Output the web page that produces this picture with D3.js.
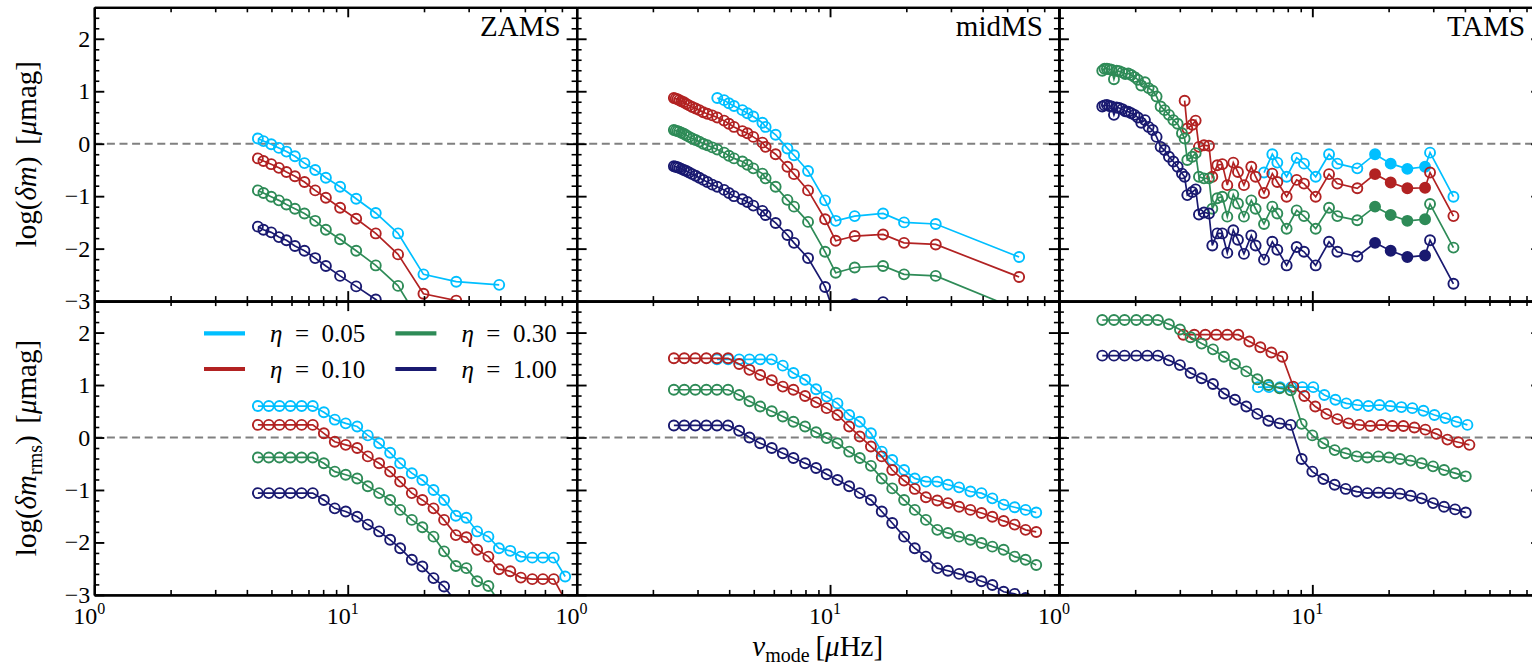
<!DOCTYPE html>
<html><head><meta charset="utf-8">
<script src="https://cdn.jsdelivr.net/npm/d3@7"></script>
<style>
body{margin:0;background:#fff;}
svg text{font-family:"Liberation Serif","DejaVu Serif",serif;fill:#000;}
</style></head><body>
<svg id="c" width="1532" height="670"></svg>
<script>
// ---------------- data ----------------
const etaLabels = ["0.05", "0.10", "0.30", "1.00"];
const panelTitles = ["ZAMS", "midMS", "TAMS"];
const xDomain = [1, 80];
const yDomain = [-3, 2.6];
const yMajorTicks = [-3, -2, -1, 0, 1, 2];
const yMinorTicks = [-2.8, -2.6, -2.4, -2.2, -1.8, -1.6, -1.4, -1.2, -0.8, -0.6, -0.4, -0.2, 0.2, 0.4, 0.6, 0.8, 1.2, 1.4, 1.6, 1.8, 2.2, 2.4];
const xMajorTicks = [1, 10];
const xMajorExp = ["0", "1"];
const xMinorTicks = [2, 3, 4, 5, 6, 7, 8, 9, 20, 30, 40, 50, 60, 70, 80];

// ZAMS, log(dm)
const nuZamsTop = [4.42, 4.65, 4.99, 5.35, 5.73, 6.19, 6.75, 7.44, 8.20, 9.33, 10.8, 12.9, 15.8, 19.9, 26.8, 39.6];
const zamsTop005 = [0.10, 0.05, -0.01, -0.08, -0.15, -0.24, -0.37, -0.50, -0.65, -0.82, -1.05, -1.32, -1.71, -2.49, -2.63, -2.69];
const zamsTop010 = [-0.28, -0.33, -0.39, -0.46, -0.54, -0.62, -0.73, -0.89, -1.03, -1.22, -1.43, -1.71, -2.11, -2.86, -2.99, -3.25];
const zamsTop030 = [-0.89, -0.94, -1.01, -1.08, -1.16, -1.24, -1.33, -1.47, -1.64, -1.82, -2.04, -2.32, -2.71, -3.5, null, null];
const zamsTop100 = [-1.58, -1.64, -1.69, -1.78, -1.84, -1.95, -2.04, -2.18, -2.33, -2.52, -2.72, -2.97, -3.35, null, null, null];

// midMS, log(dm)
const nuMidTop = [2.42, 2.46, 2.50, 2.54, 2.59, 2.65, 2.71, 2.78, 2.86, 2.95, 3.05, 3.16, 3.28, 3.43, 3.59, 3.82, 3.99, 4.18, 4.51, 4.72, 4.98, 5.41, 5.57, 6.10, 6.79, 7.21, 8.19, 9.56, 10.53, 12.51, 16.19, 19.59, 26.13, 55.74];
const midTop005 = [null, null, null, null, null, null, null, null, null, null, null, null, null, null, 0.87, 0.83, 0.77, 0.72, 0.64, 0.58, 0.52, 0.40, 0.32, 0.17, -0.09, -0.22, -0.52, -1.08, -1.47, -1.38, -1.33, -1.50, -1.53, -2.16];
const midTop010 = [0.87, 0.86, 0.85, 0.83, 0.81, 0.79, 0.76, 0.73, 0.70, 0.67, 0.64, 0.60, 0.57, 0.54, 0.50, 0.44, 0.38, 0.32, 0.24, 0.20, 0.13, 0.02, -0.06, -0.20, -0.44, -0.58, -0.89, -1.44, -1.85, -1.76, -1.73, -1.89, -1.92, -2.54];
const midTop030 = [0.26, 0.25, 0.24, 0.23, 0.21, 0.19, 0.16, 0.13, 0.10, 0.07, 0.04, 0.00, -0.03, -0.07, -0.11, -0.17, -0.23, -0.28, -0.34, -0.40, -0.47, -0.57, -0.66, -0.82, -1.07, -1.20, -1.49, -2.06, -2.46, -2.36, -2.33, -2.49, -2.52, -3.17];
const midTop100 = [-0.43, -0.44, -0.45, -0.46, -0.48, -0.50, -0.52, -0.55, -0.58, -0.61, -0.65, -0.69, -0.73, -0.78, -0.82, -0.88, -0.94, -1.00, -1.06, -1.11, -1.18, -1.28, -1.36, -1.51, -1.74, -1.89, -2.18, -2.73, -3.32, -3.06, -3.02, -3.15, -3.18, -3.85];

// TAMS, log(dm)
const nuTamsTop = [1.483, 1.514, 1.547, 1.580, 1.614, 1.649, 1.689, 1.730, 1.778, 1.827, 1.878, 1.930, 1.989, 2.050, 2.113, 2.185, 2.259, 2.343, 2.429, 2.520, 2.613, 2.718, 2.828, 2.941, 3.059, 3.134, 3.211, 3.360, 3.464, 3.570, 3.736, 3.910, 4.030, 4.217, 4.413, 4.618, 4.877, 5.088, 5.373, 5.744, 5.975, 6.447, 6.953, 7.275, 7.918, 8.675, 9.271, 10.31, 11.64, 12.55, 15.05, 17.68, 20.38, 23.71, 27.85, 29.14, 36.04];
const tamsTop005 = [null, null, null, null, null, null, null, null, null, null, null, null, null, null, null, null, null, null, null, null, null, null, null, null, null, null, null, null, null, null, null, null, null, null, null, null, null, null, null, null, null, -0.55, -0.20, -0.36, -0.63, -0.27, -0.38, -0.63, -0.20, -0.38, -0.47, -0.20, -0.38, -0.48, -0.44, -0.17, -1.01];
const tamsTop010 = [null, null, null, null, null, null, null, null, null, null, null, null, null, null, null, null, null, null, null, null, null, null, null, null, null, 0.82, 0.29, 0.36, 0.44, -0.06, -0.03, -0.04, -0.63, -0.41, -0.39, -0.79, -0.36, -0.54, -0.79, -0.44, -0.63, -0.94, -0.57, -0.73, -1.01, -0.69, -0.76, -1.01, -0.58, -0.76, -0.85, -0.58, -0.74, -0.85, -0.84, -0.55, -1.38];
const tamsTop030 = [1.39, 1.43, 1.43, 1.42, 1.41, 1.23, 1.39, 1.38, 1.36, 1.33, 1.34, 1.31, 1.27, 1.22, 1.11, 1.17, 1.06, 1.01, 0.90, 0.71, 0.64, 0.55, 0.45, 0.38, 0.20, 0.10, -0.31, -0.25, -0.18, -0.63, -0.66, -0.66, -1.24, -1.04, -1.01, -1.39, -0.97, -1.14, -1.39, -1.08, -1.24, -1.53, -1.20, -1.33, -1.62, -1.27, -1.38, -1.62, -1.22, -1.38, -1.46, -1.20, -1.36, -1.47, -1.44, -1.15, -1.98];
const tamsTop100 = [0.71, 0.73, 0.74, 0.72, 0.71, 0.55, 0.69, 0.68, 0.66, 0.62, 0.61, 0.58, 0.55, 0.50, 0.40, 0.45, 0.32, 0.26, 0.13, -0.06, -0.12, -0.25, -0.34, -0.44, -0.57, -0.63, -0.98, -0.92, -0.87, -1.35, -1.31, -1.33, -1.94, -1.71, -1.71, -2.08, -1.65, -1.83, -2.10, -1.75, -1.94, -2.21, -1.87, -2.02, -2.32, -1.97, -2.06, -2.32, -1.87, -2.06, -2.15, -1.89, -2.04, -2.16, -2.13, -1.84, -2.67];
const tamsFilledNu = [17.68, 20.38, 23.71, 27.85];

// ZAMS, log(dm_rms)
const nuZamsBot = [4.42, 4.88, 5.38, 5.94, 6.58, 7.28, 8.05, 8.89, 9.82, 10.9, 12.0, 13.3, 14.7, 16.1, 17.9, 19.7, 21.8, 24.0, 26.7, 29.4, 32.4, 35.9, 39.5, 43.8, 48.2, 53.5, 58.9, 65.0, 72.1];
const zamsBot005 = [0.60, 0.60, 0.60, 0.60, 0.60, 0.60, 0.48, 0.34, 0.27, 0.21, 0.04, -0.11, -0.29, -0.49, -0.68, -0.81, -1.00, -1.19, -1.49, -1.53, -1.79, -1.89, -2.11, -2.16, -2.27, -2.29, -2.29, -2.29, -2.65];
const zamsBot010 = [0.24, 0.24, 0.24, 0.24, 0.24, 0.24, 0.08, -0.08, -0.14, -0.20, -0.36, -0.49, -0.65, -0.84, -1.06, -1.19, -1.35, -1.57, -1.86, -1.90, -2.14, -2.27, -2.51, -2.55, -2.67, -2.70, -2.70, -2.70, -3.10];
const zamsBot030 = [-0.38, -0.38, -0.38, -0.38, -0.38, -0.38, -0.49, -0.65, -0.71, -0.78, -0.93, -1.06, -1.19, -1.38, -1.57, -1.71, -1.89, -2.17, -2.45, -2.49, -2.74, -2.83, -3.13, null, null, null, null, null, null];
const zamsBot100 = [-1.06, -1.06, -1.06, -1.06, -1.06, -1.06, -1.19, -1.35, -1.41, -1.51, -1.66, -1.79, -1.95, -2.11, -2.33, -2.46, -2.68, -2.84, -3.13, null, null, null, null, null, null, null, null, null, null];

// midMS, log(dm_rms)
const nuMidBot = [2.42, 2.66, 2.94, 3.25, 3.58, 3.96, 4.38, 4.81, 5.30, 5.89, 6.51, 7.17, 7.97, 8.81, 9.70, 10.7, 11.9, 13.1, 14.5, 16.0, 17.6, 19.6, 21.6, 23.9, 26.5, 29.2, 32.3, 35.8, 39.6, 43.7, 48.4, 53.5, 59.1, 65.1];
const midBot005 = [null, null, null, null, 1.49, 1.49, 1.49, 1.49, 1.49, 1.49, 1.37, 1.23, 1.10, 0.92, 0.78, 0.65, 0.43, 0.30, 0.08, -0.27, -0.43, -0.62, -0.78, -0.84, -0.84, -0.90, -0.95, -1.03, -1.06, -1.16, -1.28, -1.33, -1.38, -1.43];
const midBot010 = [1.51, 1.51, 1.51, 1.51, 1.51, 1.51, 1.40, 1.29, 1.19, 1.09, 0.97, 0.91, 0.79, 0.67, 0.56, 0.43, 0.21, 0.02, -0.17, -0.36, -0.62, -0.82, -0.98, -1.14, -1.20, -1.25, -1.32, -1.38, -1.44, -1.51, -1.59, -1.66, -1.76, -1.80];
const midBot030 = [0.91, 0.91, 0.91, 0.91, 0.91, 0.91, 0.81, 0.69, 0.59, 0.50, 0.40, 0.30, 0.21, 0.10, -0.01, -0.11, -0.27, -0.39, -0.54, -0.78, -0.97, -1.19, -1.38, -1.57, -1.76, -1.82, -1.89, -1.95, -2.01, -2.08, -2.14, -2.27, -2.33, -2.43];
const midBot100 = [0.23, 0.23, 0.23, 0.23, 0.23, 0.23, 0.13, 0.00, -0.11, -0.20, -0.30, -0.39, -0.49, -0.58, -0.70, -0.81, -0.93, -1.06, -1.19, -1.41, -1.63, -1.89, -2.11, -2.27, -2.49, -2.54, -2.60, -2.66, -2.74, -2.81, -2.94, -2.98, -3.06, -3.16];

// TAMS, log(dm_rms)
const nuTamsBot005 = [6.103, 6.745, 7.456, 8.263, 9.131, 10.09, 11.15, 12.33, 13.62, 15.05, 16.64, 18.39, 20.32, 22.46, 24.82, 27.44, 30.32, 33.50, 37.03, 40.92];
const tamsBot005 = [0.96, 0.96, 0.96, 0.96, 0.96, 0.96, 0.81, 0.72, 0.65, 0.62, 0.60, 0.62, 0.60, 0.58, 0.56, 0.51, 0.43, 0.37, 0.30, 0.24];
const nuTamsBot010 = [3.096, 3.422, 3.782, 4.180, 4.618, 5.104, 5.641, 6.234, 6.889, 7.613, 8.414, 9.299, 10.27, 11.36, 12.55, 13.87, 15.33, 16.94, 18.73, 20.70, 22.87, 25.28, 27.93, 30.87, 34.12, 37.70, 41.67];
const tamsBot010 = [1.96, 1.96, 1.96, 1.96, 1.96, 1.96, 1.83, 1.72, 1.62, 1.54, 0.97, 0.79, 0.59, 0.45, 0.35, 0.27, 0.24, 0.22, 0.24, 0.22, 0.22, 0.19, 0.15, 0.07, -0.04, -0.09, -0.14];
const nuTamsBot = [1.483, 1.649, 1.816, 2.020, 2.232, 2.459, 2.718, 3.004, 3.309, 3.658, 4.055, 4.480, 4.951, 5.489, 6.066, 6.705, 7.432, 8.214, 9.077, 10.00, 11.05, 12.25, 13.54, 14.96, 16.49, 18.22, 20.08, 22.19, 24.44, 27.02, 29.94, 33.09, 36.58, 40.31];
const tamsBot030 = [2.24, 2.24, 2.24, 2.24, 2.24, 2.24, 2.16, 2.06, 1.91, 1.79, 1.68, 1.54, 1.40, 1.26, 1.11, 1.00, 0.94, 0.90, 0.26, 0.04, -0.11, -0.24, -0.30, -0.36, -0.38, -0.36, -0.38, -0.41, -0.44, -0.49, -0.55, -0.62, -0.68, -0.74];
const tamsBot100 = [1.56, 1.56, 1.56, 1.56, 1.56, 1.56, 1.47, 1.38, 1.23, 1.13, 1.02, 0.84, 0.72, 0.59, 0.45, 0.32, 0.27, 0.24, -0.41, -0.65, -0.79, -0.90, -0.98, -1.03, -1.06, -1.05, -1.06, -1.07, -1.11, -1.16, -1.25, -1.32, -1.37, -1.43];

// ---------------- style / layout ----------------
const colors = ["#00bfff", "#b22222", "#2e8b57", "#191970"];
const L0 = 94.3, T0 = 7.3, PW = 482.3, PH = 293.8;
const TICKFS = 24, LABELFS = 29;

const panels = [
  {col: 0, row: 0, series: [[nuZamsTop, zamsTop005], [nuZamsTop, zamsTop010], [nuZamsTop, zamsTop030], [nuZamsTop, zamsTop100]]},
  {col: 1, row: 0, series: [[nuMidTop, midTop005], [nuMidTop, midTop010], [nuMidTop, midTop030], [nuMidTop, midTop100]]},
  {col: 2, row: 0, filled: tamsFilledNu, series: [[nuTamsTop, tamsTop005], [nuTamsTop, tamsTop010], [nuTamsTop, tamsTop030], [nuTamsTop, tamsTop100]]},
  {col: 0, row: 1, series: [[nuZamsBot, zamsBot005], [nuZamsBot, zamsBot010], [nuZamsBot, zamsBot030], [nuZamsBot, zamsBot100]]},
  {col: 1, row: 1, series: [[nuMidBot, midBot005], [nuMidBot, midBot010], [nuMidBot, midBot030], [nuMidBot, midBot100]]},
  {col: 2, row: 1, series: [[nuTamsBot005, tamsBot005], [nuTamsBot010, tamsBot010], [nuTamsBot, tamsBot030], [nuTamsBot, tamsBot100]]}
];

const svg = d3.select("#c");
svg.append("rect").attr("width", 1532).attr("height", 670).attr("fill", "#fff");
const defs = svg.append("defs");
const minus = v => v < 0 ? "\u2212" + Math.abs(v) : String(v);

function styleAxis(g, w) {
  g.select(".domain").attr("stroke", "#000").attr("stroke-width", 2.2);
  g.selectAll(".tick line").attr("stroke", "#000").attr("stroke-width", w);
}

panels.forEach(p => {
  const x0 = L0 + p.col * PW, y0 = T0 + p.row * PH;
  const x = d3.scaleLog().domain(xDomain).range([x0, x0 + PW]);
  const y = d3.scaleLinear().domain(yDomain).range([y0 + PH, y0]);
  const cid = "clip" + p.col + p.row;
  defs.append("clipPath").attr("id", cid).append("rect")
    .attr("x", x0).attr("y", y0).attr("width", PW).attr("height", PH);
  const g = svg.append("g").attr("clip-path", "url(#" + cid + ")");
  g.append("line").attr("x1", x0).attr("x2", x0 + PW).attr("y1", y(0)).attr("y2", y(0))
    .attr("stroke", "#808080").attr("stroke-width", 2).attr("stroke-dasharray", "8,4.6");

  p.series.forEach((s, i) => {
    const pts = s[0].map((n, k) => ({n: n, v: s[1][k]})).filter(d => d.v !== null && d.v !== undefined);
    g.append("path").datum(pts)
      .attr("d", d3.line().x(d => x(d.n)).y(d => y(d.v)))
      .attr("fill", "none").attr("stroke", colors[i]).attr("stroke-width", 1.7);
    g.selectAll(null).data(pts).join("circle")
      .attr("cx", d => x(d.n)).attr("cy", d => y(d.v)).attr("r", 5.0)
      .attr("fill", d => (p.filled && p.filled.includes(d.n)) ? colors[i] : "none")
      .attr("stroke", colors[i]).attr("stroke-width", 1.9);
  });

  // axes (inward ticks on all sides)
  const ax = svg.append("g");
  const mk = (axisFn, scale, vals, size, tr) => {
    const a = ax.append("g").attr("transform", tr)
      .call(axisFn(scale).tickValues(vals).tickSize(-size).tickSizeOuter(0).tickFormat(""));
    styleAxis(a, size > 6 ? 1.9 : 1.6);
  };
  mk(d3.axisBottom, x, xMajorTicks, 10, `translate(0,${y0 + PH})`);
  mk(d3.axisBottom, x, xMinorTicks, 5, `translate(0,${y0 + PH})`);
  mk(d3.axisTop, x, xMajorTicks, 10, `translate(0,${y0})`);
  mk(d3.axisTop, x, xMinorTicks, 5, `translate(0,${y0})`);
  mk(d3.axisLeft, y, yMajorTicks, 10, `translate(${x0},0)`);
  mk(d3.axisLeft, y, yMinorTicks, 5, `translate(${x0},0)`);
  mk(d3.axisRight, y, yMajorTicks, 10, `translate(${x0 + PW},0)`);
  mk(d3.axisRight, y, yMinorTicks, 5, `translate(${x0 + PW},0)`);

  if (p.col === 0) {
    ax.selectAll(null).data(yMajorTicks).join("text")
      .attr("x", x0 - 4).attr("y", d => y(d) + 8)
      .attr("text-anchor", "end").attr("font-size", TICKFS).text(minus);
  }
  if (p.row === 1) {
    xMajorTicks.forEach((v, k) => {
      const t = ax.append("text").attr("x", x(v) - 5).attr("y", y0 + PH + 29)
        .attr("text-anchor", "middle").attr("font-size", TICKFS);
      t.append("tspan").text("10");
      t.append("tspan").attr("dy", -10).attr("font-size", 16).text(xMajorExp[k]);
    });
  }
  if (p.row === 0) {
    ax.append("text").attr("x", x0 + PW - 16).attr("y", y0 + 29)
      .attr("text-anchor", "end").attr("font-size", 29).text(panelTitles[p.col]);
  }
});

// y labels
function ylabel(cy, sub) {
  const t = svg.append("text").attr("transform", `translate(36,${cy}) rotate(-90)`)
    .attr("text-anchor", "middle").attr("font-size", LABELFS);
  t.append("tspan").text("log(");
  t.append("tspan").attr("font-style", "italic").text("\u03b4m");
  if (sub) t.append("tspan").attr("font-size", 20).attr("dy", 6).text(sub);
  t.append("tspan").attr("dy", sub ? -6 : 0).text(")\u2009\u2009[");
  t.append("tspan").attr("font-style", "italic").text("\u03bc");
  t.append("tspan").text("mag]");
}
ylabel(T0 + PH / 2, null);
ylabel(T0 + PH * 1.5, "rms");

// x label
{
  const t = svg.append("text").attr("x", L0 + 1.5 * PW).attr("y", 656)
    .attr("text-anchor", "middle").attr("font-size", LABELFS);
  t.append("tspan").attr("font-style", "italic").text("\u03bd");
  t.append("tspan").attr("font-size", 20).attr("dy", 6).text("mode");
  t.append("tspan").attr("dy", -6).text("\u2009[");
  t.append("tspan").attr("font-style", "italic").text("\u03bc");
  t.append("tspan").text("Hz]");
}

// legend (bottom-left panel)
{
  const lg = svg.append("g");
  const pos = [[204, 333.3], [204, 369], [395.4, 333.3], [395.4, 369]];
  etaLabels.forEach((lab, i) => {
    const [lx, ly] = pos[i];
    lg.append("line").attr("x1", lx).attr("x2", lx + 41).attr("y1", ly).attr("y2", ly)
      .attr("stroke", colors[i]).attr("stroke-width", 4.2);
    const t = lg.append("text").attr("x", lx + 66).attr("y", ly + 8.5).attr("font-size", 25);
    t.append("tspan").attr("font-style", "italic").text("\u03b7");
    t.append("tspan").text("\u2002=\u2002" + lab);
  });
}
</script>
</body></html>
